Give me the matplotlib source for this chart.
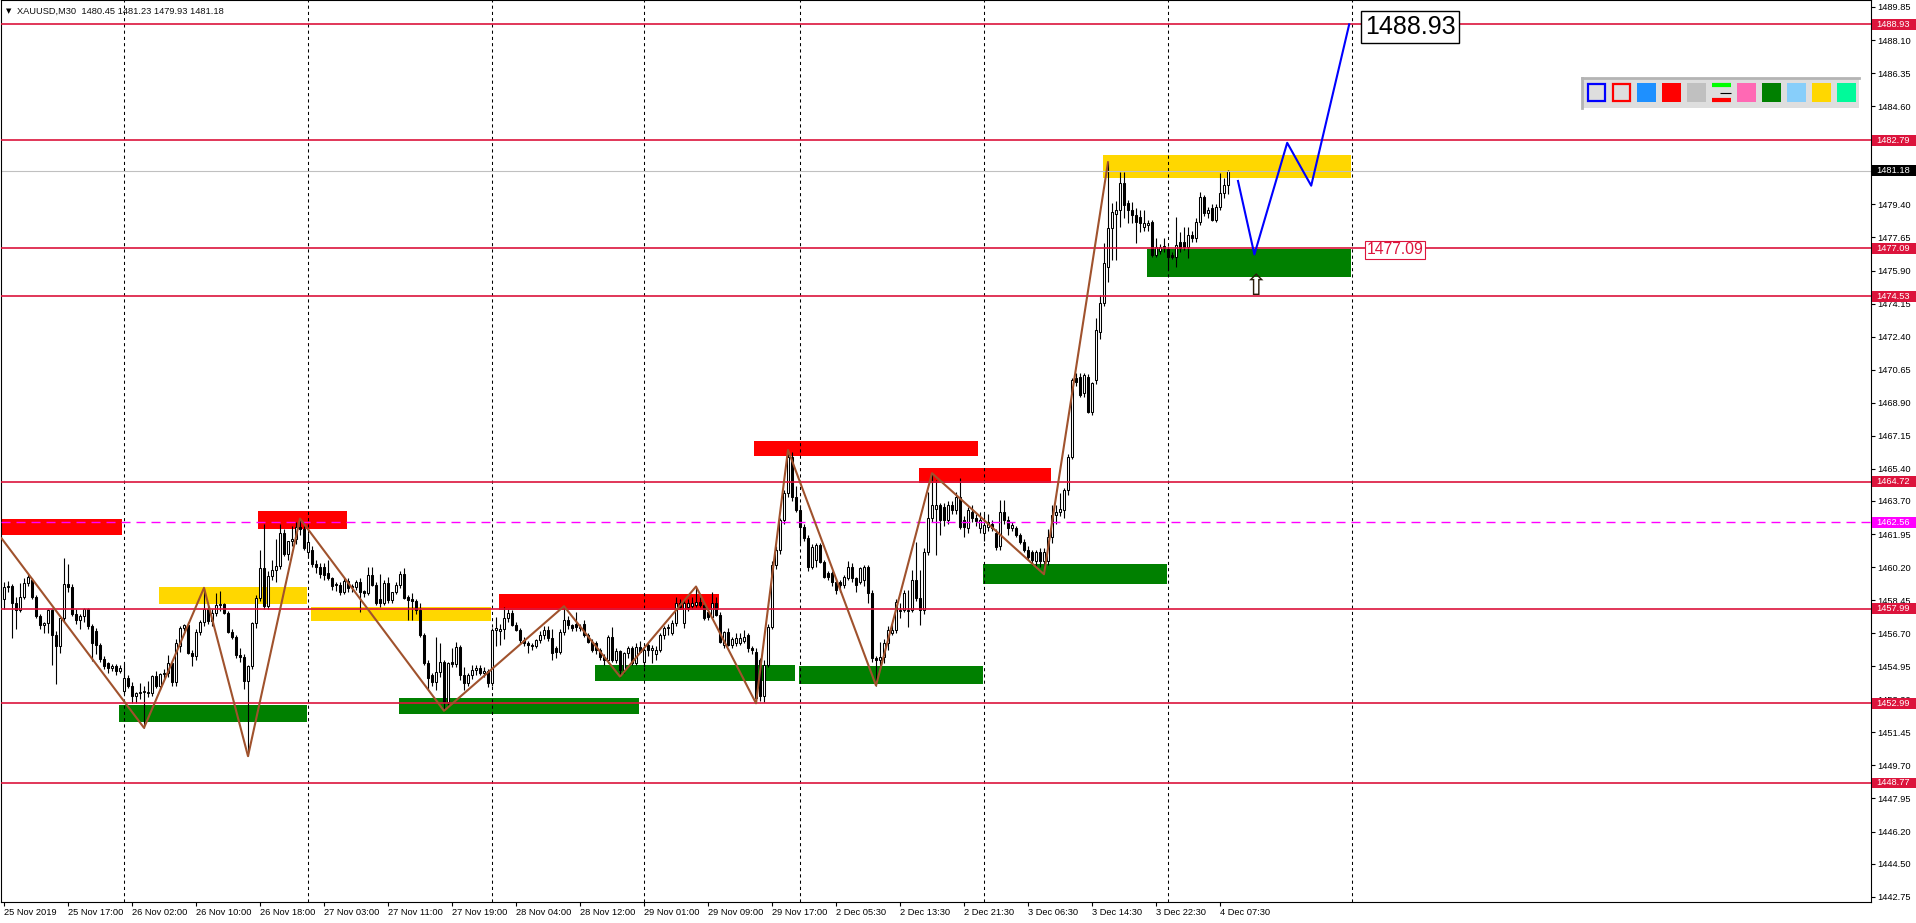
"""XAUUSD M30 chart with supply/demand zones, zigzag and projection, MT4 look."""
import matplotlib
matplotlib.use("Agg")
import matplotlib.pyplot as plt
from matplotlib.patches import Rectangle
from matplotlib.transforms import blended_transform_factory
import numpy as np

plt.rcParams["font.family"] = ["Liberation Sans", "DejaVu Sans"]

# candles, bar 0 = 25 Nov 2019 09:00 (M30)
OPENS = [
    1458.50, 1459.15, 1459.20, 1458.30, 1457.95, 1458.63, 1459.37, 1459.50, 1458.63, 1457.60,
    1457.11, 1457.25, 1457.92, 1456.63, 1456.02, 1457.50, 1459.28, 1459.16, 1457.69, 1457.39,
    1457.60, 1457.96, 1457.07, 1456.80, 1456.05, 1455.31, 1455.10, 1454.87, 1454.95, 1454.69,
    1453.63, 1454.34, 1453.90, 1453.37, 1453.55, 1453.60, 1453.60, 1453.55, 1454.43, 1453.90,
    1454.52, 1454.60, 1455.13, 1454.11, 1456.00, 1456.95, 1457.16, 1455.66, 1455.49, 1456.76,
    1457.28, 1457.96, 1457.34, 1457.78, 1458.17, 1458.22, 1457.78, 1456.77, 1456.51, 1455.52,
    1455.45, 1454.16, 1454.96, 1457.22, 1458.57, 1460.16, 1458.13, 1459.72, 1460.07, 1460.25,
    1462.02, 1460.87, 1461.57, 1461.66, 1462.33, 1462.19, 1461.00, 1461.10, 1460.36, 1460.22,
    1460.20, 1459.90, 1459.60, 1459.30, 1459.25, 1458.89, 1459.48, 1459.20, 1459.15, 1459.42,
    1458.95, 1458.81, 1459.78, 1459.25, 1458.50, 1458.28, 1459.37, 1458.45, 1458.89, 1459.25,
    1459.86, 1458.60, 1458.50, 1458.40, 1457.92, 1456.60, 1455.10, 1454.50, 1454.13, 1454.66,
    1455.19, 1453.07, 1455.15, 1455.05, 1455.98, 1454.50, 1454.04, 1454.48, 1454.75, 1454.85,
    1454.60, 1454.70, 1454.04, 1456.87, 1456.80, 1456.90, 1457.48, 1457.75, 1457.13, 1456.87,
    1456.34, 1456.16, 1456.07, 1456.00, 1456.34, 1456.60, 1456.87, 1456.42, 1455.90, 1455.70,
    1456.78, 1457.39, 1457.13, 1457.20, 1457.04, 1457.20, 1456.60, 1456.25, 1456.20, 1455.81,
    1455.45, 1455.28, 1456.51, 1455.30, 1455.75, 1454.75, 1455.64, 1455.90, 1455.11, 1455.99,
    1455.20, 1456.05, 1455.80, 1455.60, 1455.81, 1456.61, 1456.96, 1456.70, 1457.23, 1458.32,
    1457.26, 1458.11, 1458.15, 1458.20, 1458.34, 1458.20, 1457.80, 1457.58, 1458.28, 1457.67,
    1456.10, 1456.78, 1456.08, 1456.20, 1456.20, 1456.30, 1456.60, 1455.90, 1455.73, 1455.30,
    1453.35, 1455.02, 1457.05, 1460.31, 1461.11, 1462.70, 1464.11, 1466.05, 1463.93, 1463.23,
    1462.34, 1461.72, 1460.23, 1460.60, 1461.37, 1460.49, 1459.90, 1459.90, 1459.43, 1459.40,
    1459.25, 1459.60, 1460.23, 1459.61, 1459.40, 1459.50, 1460.23, 1458.81, 1455.37, 1455.28,
    1455.46, 1456.17, 1456.70, 1456.87, 1457.90, 1457.93, 1457.85, 1457.95, 1459.52, 1458.55,
    1457.93, 1461.00, 1462.80, 1463.30, 1463.49, 1463.40, 1462.70, 1463.49, 1463.22, 1463.93,
    1462.70, 1462.25, 1463.13, 1462.78, 1462.25, 1462.00, 1462.34, 1462.50, 1462.00, 1461.30,
    1463.13, 1462.70, 1462.25, 1462.25, 1461.90, 1461.55, 1461.11, 1461.00, 1460.50, 1461.00,
    1460.50, 1460.50, 1461.81, 1462.96, 1463.13, 1463.22, 1464.28, 1466.05, 1470.19, 1470.28,
    1469.40, 1470.28, 1468.43, 1470.10, 1472.65, 1474.16, 1476.10, 1478.13, 1478.90, 1479.10,
    1480.52, 1479.46, 1479.11, 1478.84, 1478.75, 1478.22, 1478.30, 1478.49, 1476.72, 1476.95,
    1477.20, 1477.06, 1476.72, 1476.63, 1477.43, 1477.43, 1477.16, 1477.78, 1477.60, 1478.49,
    1479.81, 1478.93, 1479.20, 1478.58, 1479.28, 1479.99, 1480.45,
]
HIGHS = [
    1459.40, 1459.45, 1459.30, 1458.60, 1459.37, 1459.63, 1459.86, 1459.60, 1458.70, 1457.70,
    1457.28, 1457.99, 1458.00, 1456.80, 1457.52, 1460.69, 1460.34, 1459.30, 1458.00, 1457.70,
    1458.04, 1458.05, 1457.20, 1457.00, 1456.20, 1455.50, 1455.20, 1455.05, 1455.05, 1455.00,
    1455.13, 1454.50, 1454.11, 1453.60, 1454.07, 1453.90, 1454.16, 1454.50, 1454.69, 1454.60,
    1454.80, 1455.57, 1455.30, 1456.37, 1457.10, 1457.20, 1457.30, 1455.80, 1456.90, 1457.40,
    1459.10, 1458.20, 1458.00, 1458.84, 1458.93, 1458.30, 1457.90, 1456.90, 1456.60, 1455.90,
    1455.60, 1455.00, 1457.30, 1458.70, 1461.13, 1462.49, 1460.00, 1460.60, 1461.66, 1462.49,
    1462.20, 1461.50, 1462.37, 1462.60, 1462.77, 1462.40, 1462.00, 1461.30, 1460.60, 1460.40,
    1460.40, 1460.57, 1459.70, 1459.40, 1459.40, 1459.60, 1459.60, 1459.30, 1459.50, 1459.60,
    1459.00, 1460.22, 1460.22, 1459.40, 1459.86, 1459.50, 1459.70, 1458.90, 1459.40, 1460.00,
    1460.13, 1458.70, 1458.81, 1458.50, 1458.28, 1456.70, 1455.30, 1454.60, 1456.51, 1456.16,
    1455.30, 1455.20, 1455.89, 1456.25, 1456.10, 1454.92, 1454.60, 1455.01, 1455.00, 1455.00,
    1454.90, 1454.80, 1456.95, 1457.57, 1457.20, 1458.10, 1458.00, 1457.92, 1457.30, 1457.00,
    1456.50, 1456.30, 1456.20, 1456.40, 1456.80, 1457.10, 1457.10, 1456.90, 1456.00, 1456.90,
    1458.13, 1457.60, 1457.20, 1457.83, 1457.20, 1457.40, 1456.70, 1456.40, 1456.30, 1455.90,
    1455.60, 1456.60, 1457.04, 1455.90, 1455.80, 1455.70, 1456.00, 1456.00, 1456.20, 1456.30,
    1455.90, 1456.20, 1456.10, 1456.00, 1456.70, 1457.10, 1457.20, 1457.40, 1458.64, 1458.50,
    1458.50, 1458.50, 1458.60, 1459.17, 1458.60, 1458.30, 1457.90, 1458.90, 1458.60, 1457.80,
    1456.80, 1457.00, 1456.50, 1456.70, 1456.70, 1456.87, 1456.70, 1456.00, 1455.90, 1455.40,
    1455.30, 1457.20, 1460.50, 1461.30, 1462.80, 1464.30, 1466.40, 1466.30, 1464.50, 1463.50,
    1462.50, 1461.90, 1461.40, 1461.50, 1461.50, 1460.60, 1460.00, 1460.00, 1459.60, 1459.50,
    1459.80, 1460.50, 1460.40, 1459.70, 1460.20, 1460.31, 1460.30, 1459.00, 1455.50, 1456.25,
    1456.40, 1457.10, 1457.20, 1458.50, 1458.30, 1459.00, 1459.00, 1460.05, 1461.55, 1460.05,
    1461.20, 1464.20, 1465.17, 1464.81, 1463.60, 1463.60, 1463.70, 1463.70, 1464.20, 1464.90,
    1462.90, 1463.40, 1463.50, 1463.00, 1463.10, 1463.00, 1463.00, 1462.70, 1462.20, 1463.75,
    1463.75, 1462.90, 1462.60, 1462.40, 1462.00, 1461.70, 1461.30, 1461.10, 1461.10, 1461.20,
    1461.20, 1462.20, 1463.50, 1463.50, 1464.10, 1464.40, 1466.20, 1470.19, 1470.50, 1470.50,
    1470.50, 1470.40, 1470.00, 1473.37, 1474.60, 1477.34, 1481.63, 1479.50, 1479.60, 1481.13,
    1481.13, 1479.64, 1479.55, 1479.19, 1479.10, 1479.10, 1478.58, 1478.60, 1477.60, 1477.30,
    1477.60, 1477.20, 1476.90, 1478.72, 1477.96, 1478.22, 1478.20, 1478.00, 1478.66, 1480.07,
    1479.90, 1479.28, 1479.40, 1479.40, 1481.05, 1480.80, 1481.23,
]
LOWS = [
    1458.00, 1458.90, 1456.45, 1456.90, 1457.80, 1458.50, 1459.20, 1458.50, 1457.50, 1456.90,
    1456.69, 1456.72, 1455.04, 1453.99, 1455.66, 1457.30, 1458.90, 1457.60, 1457.20, 1456.90,
    1457.30, 1456.90, 1455.22, 1455.60, 1455.20, 1454.80, 1454.60, 1454.70, 1454.50, 1454.60,
    1453.46, 1453.80, 1453.02, 1453.00, 1453.19, 1451.69, 1453.30, 1453.40, 1453.80, 1453.70,
    1454.30, 1454.40, 1453.90, 1453.90, 1455.70, 1456.80, 1455.60, 1454.96, 1455.30, 1456.60,
    1457.10, 1457.20, 1457.10, 1457.60, 1457.90, 1457.70, 1456.70, 1456.40, 1455.40, 1455.20,
    1453.72, 1450.19, 1454.80, 1457.00, 1458.40, 1458.00, 1458.00, 1459.50, 1459.40, 1460.10,
    1460.80, 1460.60, 1461.30, 1461.40, 1461.90, 1461.13, 1460.70, 1460.20, 1459.90, 1459.60,
    1459.50, 1459.50, 1459.00, 1458.95, 1458.70, 1458.80, 1458.90, 1458.90, 1459.00, 1457.83,
    1458.60, 1458.70, 1459.20, 1458.20, 1458.10, 1458.20, 1458.30, 1458.30, 1458.80, 1459.10,
    1458.50, 1457.39, 1457.40, 1457.70, 1456.50, 1455.00, 1453.69, 1453.90, 1453.70, 1454.40,
    1452.59, 1452.90, 1454.90, 1454.90, 1454.20, 1453.70, 1453.90, 1454.30, 1454.50, 1454.50,
    1454.40, 1453.86, 1453.90, 1456.00, 1456.10, 1456.40, 1457.30, 1457.10, 1456.80, 1456.20,
    1456.00, 1455.63, 1455.80, 1455.90, 1456.20, 1456.40, 1456.30, 1455.28, 1455.40, 1455.60,
    1456.60, 1456.90, 1456.80, 1456.80, 1456.80, 1456.50, 1456.20, 1455.70, 1455.60, 1455.30,
    1455.00, 1455.10, 1455.20, 1455.10, 1454.40, 1454.60, 1455.40, 1455.00, 1455.00, 1455.70,
    1454.90, 1455.50, 1455.11, 1455.30, 1455.70, 1456.40, 1456.60, 1456.60, 1457.10, 1458.00,
    1457.00, 1457.90, 1458.00, 1458.10, 1458.10, 1457.40, 1457.40, 1457.50, 1457.60, 1456.20,
    1455.90, 1456.00, 1455.90, 1456.00, 1456.10, 1456.20, 1455.70, 1455.60, 1452.99, 1453.10,
    1453.08, 1454.90, 1456.90, 1460.10, 1460.90, 1462.50, 1463.90, 1463.70, 1463.10, 1461.46,
    1461.60, 1460.00, 1460.10, 1460.20, 1460.40, 1459.60, 1459.50, 1459.20, 1458.80, 1458.90,
    1459.10, 1459.50, 1459.40, 1458.90, 1459.30, 1459.20, 1458.28, 1455.20, 1453.93, 1454.90,
    1455.10, 1455.80, 1456.60, 1456.70, 1457.50, 1457.80, 1457.05, 1457.80, 1458.40, 1457.14,
    1457.70, 1460.84, 1462.60, 1460.84, 1461.90, 1462.40, 1462.50, 1463.00, 1463.00, 1462.20,
    1461.81, 1462.00, 1462.60, 1462.40, 1462.00, 1461.60, 1462.10, 1462.10, 1461.10, 1461.10,
    1462.50, 1461.90, 1462.10, 1461.80, 1461.40, 1461.00, 1460.60, 1460.30, 1460.20, 1460.20,
    1459.82, 1460.30, 1461.50, 1462.50, 1462.90, 1462.78, 1464.00, 1465.90, 1469.80, 1469.20,
    1469.20, 1468.34, 1468.25, 1469.90, 1472.30, 1474.00, 1475.31, 1476.46, 1476.46, 1478.22,
    1478.66, 1478.40, 1478.40, 1477.34, 1477.96, 1478.00, 1478.00, 1476.63, 1476.60, 1476.80,
    1476.90, 1475.93, 1476.50, 1476.11, 1476.90, 1477.00, 1476.55, 1477.40, 1477.40, 1478.30,
    1478.80, 1478.70, 1478.50, 1478.49, 1479.10, 1479.72, 1479.93,
]
CLOSES = [
    1459.15, 1459.20, 1458.30, 1457.95, 1458.63, 1459.37, 1459.70, 1458.63, 1457.60, 1457.11,
    1457.25, 1457.92, 1456.63, 1456.02, 1457.50, 1459.28, 1459.16, 1457.69, 1457.39, 1457.60,
    1457.96, 1457.07, 1456.19, 1456.05, 1455.31, 1454.96, 1454.87, 1454.95, 1454.69, 1454.87,
    1454.34, 1453.90, 1453.37, 1453.55, 1453.60, 1453.62, 1453.55, 1454.43, 1453.90, 1454.52,
    1454.60, 1455.13, 1454.11, 1456.19, 1456.95, 1457.16, 1455.66, 1455.49, 1456.76, 1457.28,
    1457.96, 1457.34, 1457.78, 1458.17, 1458.22, 1457.78, 1456.77, 1456.51, 1455.52, 1455.45,
    1454.16, 1454.96, 1457.22, 1458.57, 1460.16, 1458.13, 1459.72, 1460.07, 1460.25, 1462.02,
    1460.87, 1461.57, 1461.66, 1462.33, 1462.19, 1461.22, 1461.52, 1460.36, 1460.22, 1459.86,
    1459.78, 1459.60, 1459.19, 1459.25, 1458.89, 1459.48, 1459.07, 1459.15, 1459.42, 1458.89,
    1458.81, 1459.78, 1459.25, 1458.28, 1458.28, 1459.37, 1458.45, 1458.89, 1459.25, 1459.86,
    1458.54, 1458.45, 1458.40, 1457.92, 1456.60, 1455.10, 1454.31, 1454.13, 1454.66, 1455.19,
    1453.07, 1455.10, 1455.05, 1455.98, 1454.50, 1454.04, 1454.48, 1454.75, 1454.85, 1454.60,
    1454.70, 1454.04, 1456.87, 1456.95, 1456.90, 1457.48, 1457.75, 1457.13, 1456.87, 1456.34,
    1456.16, 1456.07, 1456.00, 1456.34, 1456.60, 1456.87, 1456.42, 1455.63, 1455.70, 1456.78,
    1457.39, 1457.13, 1456.95, 1457.04, 1456.95, 1456.60, 1456.25, 1455.81, 1455.81, 1455.45,
    1455.28, 1456.51, 1455.28, 1455.75, 1454.75, 1455.64, 1455.90, 1455.11, 1455.99, 1455.73,
    1455.81, 1455.80, 1455.90, 1455.81, 1456.61, 1456.96, 1457.05, 1457.23, 1458.32, 1458.11,
    1458.28, 1458.28, 1458.30, 1458.34, 1458.20, 1457.49, 1457.58, 1458.28, 1457.67, 1456.25,
    1456.78, 1456.08, 1456.38, 1456.43, 1456.45, 1456.52, 1455.90, 1455.82, 1453.25, 1453.35,
    1455.02, 1457.05, 1460.31, 1461.11, 1462.70, 1464.11, 1466.05, 1463.93, 1463.23, 1462.34,
    1461.72, 1460.23, 1461.28, 1461.37, 1460.49, 1459.70, 1459.70, 1459.43, 1458.99, 1459.25,
    1459.70, 1460.23, 1459.61, 1459.25, 1460.14, 1460.23, 1458.81, 1455.37, 1455.28, 1455.46,
    1456.17, 1456.87, 1456.87, 1458.37, 1457.93, 1458.81, 1457.95, 1459.52, 1458.55, 1457.93,
    1461.00, 1462.80, 1463.49, 1463.49, 1462.70, 1462.70, 1463.49, 1463.22, 1463.93, 1462.34,
    1462.34, 1463.22, 1462.78, 1462.66, 1462.70, 1462.43, 1462.60, 1462.25, 1461.28, 1463.13,
    1462.70, 1462.25, 1462.43, 1461.90, 1461.55, 1461.11, 1460.75, 1460.58, 1461.00, 1460.50,
    1461.00, 1461.81, 1462.96, 1463.13, 1463.30, 1464.28, 1466.05, 1470.10, 1470.00, 1469.31,
    1470.37, 1468.43, 1469.93, 1472.75, 1474.16, 1476.28, 1478.13, 1479.02, 1479.10, 1480.52,
    1479.37, 1479.11, 1478.84, 1478.49, 1478.40, 1478.40, 1478.40, 1476.72, 1477.16, 1477.16,
    1477.10, 1476.63, 1476.63, 1477.25, 1477.08, 1477.16, 1477.78, 1477.60, 1478.49, 1479.81,
    1478.93, 1479.11, 1478.58, 1479.28, 1479.99, 1480.43, 1481.18,
]

XTICK_BARS = list(range(0, 305, 16))
XTICK_LABELS = [
    "25 Nov 2019", "25 Nov 17:00", "26 Nov 02:00", "26 Nov 10:00", "26 Nov 18:00",
    "27 Nov 03:00", "27 Nov 11:00", "27 Nov 19:00", "28 Nov 04:00", "28 Nov 12:00",
    "29 Nov 01:00", "29 Nov 09:00", "29 Nov 17:00", "2 Dec 05:30", "2 Dec 13:30",
    "2 Dec 21:30", "3 Dec 06:30", "3 Dec 14:30", "3 Dec 22:30", "4 Dec 07:30",
]
YTICKS = [1489.85, 1488.10, 1486.35, 1484.60, 1482.85, 1481.10, 1479.40, 1477.65,
          1475.90, 1474.15, 1472.40, 1470.65, 1468.90, 1467.15, 1465.40, 1463.70,
          1461.95, 1460.20, 1458.45, 1456.70, 1454.95, 1453.20, 1451.45, 1449.70,
          1447.95, 1446.20, 1444.50, 1442.75]
DAY_SEPARATORS = [30, 76, 122, 160, 199, 245, 291, 337]

LEVELS = [1488.93, 1482.79, 1477.09, 1474.53, 1464.72, 1457.99, 1452.99, 1448.77]
MID_LEVEL = 1462.56
BID = 1481.18

# zones: (bar from, bar to, low, high)
RED_ZONES = [(-0.75, 29.5, 1461.89, 1462.72), (63.6, 85.75, 1462.20, 1463.15),
             (123.7, 178.7, 1457.93, 1458.78), (187.6, 243.6, 1466.08, 1466.90),
             (228.8, 261.7, 1464.66, 1465.45)]
YELLOW_ZONES = [(38.75, 75.8, 1458.22, 1459.16), (76.8, 121.7, 1457.36, 1458.08),
                (274.75, 336.7, 1480.82, 1482.02)]
GREEN_ZONES = [(28.75, 75.8, 1451.99, 1452.89), (98.8, 158.75, 1452.42, 1453.26),
               (147.75, 197.75, 1454.19, 1455.02), (198.8, 244.75, 1454.01, 1454.97),
               (244.8, 290.8, 1459.31, 1460.36), (285.75, 336.7, 1475.57, 1477.02)]

ZZ_BARS = [-0.6, 35, 50, 61, 74, 110, 140, 154, 173, 188, 196, 218, 232, 260, 276]
ZZ_PRICES = [1461.72, 1451.69, 1459.10, 1450.19, 1462.77, 1452.59, 1458.13, 1454.40,
             1459.17, 1452.99, 1466.40, 1453.93, 1465.17, 1459.82, 1481.63]

PROJ_BARS = [308.5, 312.6, 320.8, 326.8, 336.3]
PROJ_PRICES = [1480.64, 1476.75, 1482.66, 1480.39, 1488.93]
ARROW_AT = (312.75, 1474.30)

TARGET_TEXT = ("1488.93", 340.2, 1488.80)
LEVEL_TEXT = ("1477.09", 340.6, 1477.00)

HEADER = "XAUUSD,M30  1480.45 1481.23 1479.93 1481.18"

ICON_KINDS = ["outline", "outline", "fill", "fill", "fill", "lines",
              "fill", "fill", "fill", "fill", "fill"]
ICON_COLORS = ["#0000FF", "#FF0000", "#1E90FF", "#FF0000", "#C0C0C0", "#00FF00",
               "#FF69B4", "#008000", "#87CEFA", "#FFD700", "#00FA9A"]

W, H = 1916, 923
CRIMSON = "#DC143C"
FS = 6.7


def draw_zones(ax, zones, color):
    for x0, x1, lo, hi in zones:
        ax.add_patch(Rectangle((x0, lo), x1 - x0, hi - lo, facecolor=color,
                               edgecolor="none", zorder=1))


def draw_candles(ax):
    o, h, l, c = (np.array(v, dtype=float) for v in (OPENS, HIGHS, LOWS, CLOSES))
    x = np.arange(len(c))
    up = c >= o
    ax.vlines(x, l, h, color="black", linewidth=0.8, zorder=2)
    bottom = np.minimum(o, c)
    height = np.maximum(np.abs(c - o), 0.03)
    ax.bar(x, height, bottom=bottom, width=0.62, color=np.where(up, "white", "black"),
           edgecolor="black", linewidth=0.75, zorder=2.1)


def price_box(ax, price, face, text_color="white"):
    trans = blended_transform_factory(ax.transAxes, ax.transData)
    hgt = 0.58
    ax.add_patch(Rectangle((1.0006, price - hgt / 2), 45 / 1870, hgt, transform=trans,
                           facecolor=face, edgecolor="none", clip_on=False, zorder=20))
    ax.text(1 + 5 / 1870, price, f"{price:.2f}", transform=trans, color=text_color,
            fontsize=FS, ha="left", va="center", zorder=21, clip_on=False)


fig = plt.figure(figsize=(W / 100, H / 100), dpi=100)
fig.patch.set_facecolor("white")
ax = fig.add_axes([1 / W, 21 / H, 1870 / W, 902 / H])
ax.set_xlim(-0.75, 466.75)
ax.set_ylim(1442.47, 1490.22)

draw_zones(ax, RED_ZONES, "#FF0000")
draw_zones(ax, YELLOW_ZONES, "#FFD700")
draw_zones(ax, GREEN_ZONES, "#008000")

for b in DAY_SEPARATORS:
    ax.axvline(b, color="black", linewidth=0.75, linestyle=(0, (3, 3)), zorder=1.5)

draw_candles(ax)

ax.axhline(BID, color="#C0C0C0", linewidth=0.8, zorder=2.5)
ax.axhline(MID_LEVEL, color="#FF00FF", linewidth=1.0, linestyle=(0, (6.5, 4.3)), zorder=3)
for lv in LEVELS:
    ax.axhline(lv, color=CRIMSON, linewidth=1.2, zorder=3)

ax.plot(ZZ_BARS, ZZ_PRICES, color="#A0522D", linewidth=1.5, zorder=4)
ax.plot(PROJ_BARS, PROJ_PRICES, color="#0000FF", linewidth=1.5, zorder=4)
# hollow up arrow under the projected dip
ax.text(ARROW_AT[0], ARROW_AT[1], "\u21e7", fontsize=21, ha="center", va="bottom",
        color="#2b1d0a", family="DejaVu Sans", zorder=5)

txt, bx, by = TARGET_TEXT
ax.text(bx, by, txt, fontsize=18, ha="left", va="center", color="black", zorder=6,
        bbox=dict(boxstyle="square,pad=0.15", facecolor="white", edgecolor="black", linewidth=1))
txt, bx, by = LEVEL_TEXT
ax.text(bx, by, txt, fontsize=11.3, ha="left", va="center", color=CRIMSON, zorder=6,
        bbox=dict(boxstyle="square,pad=0.1", facecolor="white", edgecolor=CRIMSON, linewidth=0.8))

# axes, ticks
for s in ax.spines.values():
    s.set_color("black")
    s.set_linewidth(0.8)
ax.yaxis.tick_right()
ax.set_yticks(YTICKS)
ax.set_yticklabels([f"{v:.2f}" for v in YTICKS])
ax.tick_params(axis="y", length=3, width=0.8, pad=1.5, labelsize=FS, colors="black")
ax.set_xticks(XTICK_BARS)
ax.set_xticklabels(XTICK_LABELS, ha="left")
ax.tick_params(axis="x", length=3, width=0.8, pad=1.5, labelsize=FS, colors="black")

for lv in LEVELS:
    price_box(ax, lv, CRIMSON)
price_box(ax, MID_LEVEL, "#FF00FF")
price_box(ax, BID, "black")

# header
fig.text(6 / W, 1 - 11 / H, "\u25bc", fontsize=5, ha="left", va="center", family="DejaVu Sans")
fig.text(17 / W, 1 - 11 / H, HEADER, fontsize=FS, ha="left", va="center", color="#101010")

# object toolbar in the top right corner
lax = fig.add_axes([1582 / W, 1 - 108 / H, 277 / W, 30 / H])
lax.set_xlim(0, 277)
lax.set_ylim(30, 0)
lax.set_facecolor("#DEDEDE")
lax.set_xticks([])
lax.set_yticks([])
for side in ("right", "bottom"):
    lax.spines[side].set_visible(False)
for side in ("top", "left"):
    lax.spines[side].set_color("#B4B4B4")
    lax.spines[side].set_linewidth(2)
for i, (kind, col) in enumerate(zip(ICON_KINDS, ICON_COLORS)):
    x0 = 5 + 25 * i
    if kind == "outline":
        lax.add_patch(Rectangle((x0 + 1, 6), 17, 17, facecolor="#DEDEDE", edgecolor=col, linewidth=1.6))
    elif kind == "fill":
        lax.add_patch(Rectangle((x0, 5), 19, 19, facecolor=col, edgecolor="none"))
    else:
        lax.plot([x0, x0 + 19], [7, 7], color=col, linewidth=3, solid_capstyle="butt")
        lax.plot([x0 + 8, x0 + 19], [15, 15], color="black", linewidth=0.8, solid_capstyle="butt")
        lax.plot([x0, x0 + 19], [22, 22], color="#FF0000", linewidth=3, solid_capstyle="butt")

fig.savefig("out.png", dpi=100, facecolor="white")
